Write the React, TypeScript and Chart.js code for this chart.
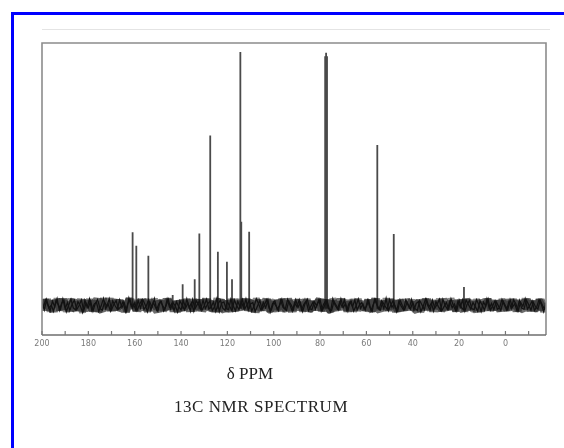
import { useEffect, useRef } from "react";
import { Chart, registerables } from "chart.js";

Chart.register(...registerables);

// x-axis (chemical shift, ppm) labels and minor tick marks
const ppmTickLabels = [200, 180, 160, 140, 120, 100, 80, 60, 40, 20, 0];
const ppmMinorTicks = [200, 190, 180, 170, 160, 150, 140, 130, 120, 110, 100, 90, 80, 70, 60, 50, 40, 30, 20, 10, 0, -10];
const ppmMin = -17.5;
const ppmMax = 200;

// Peaks: chemical shift (ppm) and relative intensity
const peakPpm = [160.9, 159.3, 154.1, 143.6, 139.3, 134.1, 132.1, 127.4, 124.1, 120.2, 118.0, 114.4, 114.0, 110.6, 77.8, 77.4, 77.0, 55.3, 48.2, 17.9];
const peakIntensity = [35.2, 30.6, 27.1, 13.7, 17.4, 19.1, 34.8, 68.3, 28.5, 25.1, 19.1, 96.9, 38.8, 35.4, 95.5, 96.7, 95.5, 65.1, 34.6, 16.4];
const peakBase = 9;

// Baseline noise trace A: one value per ppm from 200 ppm down to -17 ppm
const noiseAStartPpm = 200;
const noiseStepPpm = 1;
const noiseValuesA = [
  11.4, 8.6, 12.1, 9.3, 10.2, 8.1, 11.7, 10.4, 8.8, 12.3, 9.0, 11.1, 8.4, 10.6, 11.9, 8.7, 10.1, 12.0, 8.3, 10.9,
  9.4, 11.6, 8.2, 10.8, 12.2, 9.1, 8.5, 11.3, 9.8, 12.4, 8.6, 10.5, 11.8, 8.9, 9.6, 11.5, 8.0, 10.7, 12.1, 9.2,
  11.0, 8.4, 10.3, 11.9, 8.8, 9.9, 12.0, 8.5, 11.2, 9.4, 8.1, 11.6, 10.2, 8.7, 12.3, 9.5, 10.8, 8.3, 11.4, 9.7,
  8.6, 11.8, 9.3, 10.9, 8.2, 12.1, 9.0, 10.4, 11.7, 8.4, 10.0, 12.2, 8.9, 9.6, 11.3, 8.1, 10.7, 11.9, 9.2, 8.5,
  11.5, 9.8, 8.3, 12.0, 10.1, 8.7, 11.4, 9.3, 12.3, 8.5, 10.6, 11.1, 8.0, 9.9, 11.8, 8.8, 10.4, 12.1, 9.1, 8.6,
  11.2, 10.0, 8.4, 11.9, 9.5, 8.9, 12.2, 10.3, 8.2, 11.0, 9.7, 12.0, 8.6, 10.5, 11.6, 8.3, 9.8, 11.3, 8.8, 10.9,
  12.1, 8.5, 10.2, 11.7, 9.0, 8.4, 11.5, 10.1, 8.7, 12.3, 9.4, 10.8, 8.2, 11.4, 9.6, 12.0, 8.6, 10.3, 11.1, 8.9,
  9.7, 11.9, 8.3, 10.6, 12.2, 9.2, 8.5, 11.3, 10.0, 8.8, 12.1, 9.5, 10.7, 8.1, 11.6, 9.9, 8.6, 12.0, 10.4, 8.9,
  11.2, 9.0, 8.4, 11.8, 10.3, 8.7, 12.1, 9.6, 10.9, 8.2, 11.4, 9.8, 8.5, 12.2, 10.1, 8.8, 11.5, 9.3, 10.6, 8.3,
  11.9, 9.4, 8.6, 12.0, 10.5, 8.9, 11.1, 9.7, 8.2, 11.7, 10.2, 8.5, 12.3, 9.1, 10.8, 8.7, 11.4, 9.9, 8.4, 11.6,
  10.0, 8.6, 12.1, 9.5, 10.7, 8.3, 11.8, 9.2, 8.8, 12.0, 10.4, 8.5, 11.3, 9.6, 8.9, 11.9, 10.1, 8.7,
];

// Baseline noise trace B: one value per ppm from 199.5 ppm down to -17.5 ppm
const noiseBStartPpm = 199.5;
const noiseValuesB = [
  9.1, 12.0, 10.3, 8.2, 11.6, 9.7, 12.4, 8.5, 10.9, 11.8, 8.0, 10.2, 12.2, 9.3, 8.6, 11.4, 10.0, 7.8, 11.9, 9.5,
  12.3, 8.4, 10.6, 11.2, 8.1, 9.9, 12.5, 9.0, 10.7, 8.3, 11.7, 10.1, 8.8, 12.0, 9.4, 11.0, 8.2, 12.6, 9.8, 10.5,
  8.5, 11.9, 9.2, 12.1, 10.4, 8.0, 11.3, 9.6, 12.4, 8.7, 10.8, 11.5, 8.3, 9.9, 12.2, 8.9, 11.1, 10.0, 7.9, 11.7,
  10.2, 8.6, 12.3, 9.4, 11.0, 8.2, 11.8, 10.5, 8.8, 12.0, 9.1, 10.7, 11.6, 8.4, 9.7, 12.5, 8.1, 10.9, 11.3, 9.0,
  8.7, 12.2, 10.0, 8.3, 11.5, 9.6, 12.1, 8.9, 10.4, 11.9, 8.2, 9.8, 12.4, 10.6, 8.5, 11.2, 9.3, 12.0, 8.0, 10.8,
  11.7, 8.8, 10.1, 12.3, 9.2, 8.4, 11.6, 10.3, 8.6, 12.0, 9.5, 11.1, 8.1, 10.7, 12.2, 9.0, 8.7, 11.4, 10.0, 12.1,
  8.3, 10.5, 11.8, 9.3, 8.0, 12.4, 10.2, 8.9, 11.3, 9.7, 12.0, 8.5, 10.9, 11.5, 8.2, 9.9, 12.3, 9.1, 10.6, 8.6,
  11.9, 9.4, 8.1, 12.2, 10.4, 8.8, 11.6, 9.0, 12.5, 8.4, 10.3, 11.7, 9.6, 8.2, 12.0, 10.1, 8.7, 11.2, 9.3, 12.1,
  8.5, 10.8, 11.4, 8.0, 9.8, 12.3, 10.0, 8.6, 11.9, 9.2, 10.5, 12.2, 8.3, 9.7, 11.1, 8.9, 12.4, 10.2, 8.4, 11.6,
  9.5, 12.0, 8.2, 10.6, 11.8, 9.0, 8.7, 12.1, 10.4, 8.1, 11.3, 9.9, 12.3, 8.5, 10.0, 11.7, 8.8, 9.4, 12.2, 10.3,
  8.6, 11.5, 9.1, 12.0, 10.7, 8.3, 11.2, 9.8, 12.4, 8.9, 10.1, 11.6, 8.4, 9.6, 12.1, 10.5, 8.0, 11.0,
];

const xAxisTitle = "δ PPM";
const chartTitle = "13C NMR SPECTRUM";

const framePlugin = {
  id: "nmrFrame",
  afterDatasetsDraw(chart: any) {
    const { ctx, chartArea } = chart;
    const xs = chart.scales.x;
    const { left, right, top, bottom } = chartArea;
    ctx.save();
    // faint line above the plot
    ctx.strokeStyle = "#e4e4e4";
    ctx.lineWidth = 1;
    ctx.beginPath();
    ctx.moveTo(left, top - 13.5);
    ctx.lineTo(right + 4, top - 13.5);
    ctx.stroke();
    // box
    ctx.strokeStyle = "#8c8c8c";
    ctx.lineWidth = 1.6;
    ctx.beginPath();
    ctx.moveTo(left, bottom);
    ctx.lineTo(left, top);
    ctx.lineTo(right, top);
    ctx.lineTo(right, bottom);
    ctx.stroke();
    // axis line
    ctx.strokeStyle = "#6e6e6e";
    ctx.lineWidth = 1.5;
    ctx.beginPath();
    ctx.moveTo(left, bottom);
    ctx.lineTo(right, bottom);
    ctx.stroke();
    // inward tick marks
    ctx.strokeStyle = "#777";
    ctx.lineWidth = 1.2;
    ppmMinorTicks.forEach((v) => {
      const px = xs.getPixelForValue(v);
      ctx.beginPath();
      ctx.moveTo(px, bottom);
      ctx.lineTo(px, bottom - 4);
      ctx.stroke();
    });
    ctx.restore();
  },
};

export default function App() {
  const canvasRef = useRef<HTMLCanvasElement | null>(null);

  useEffect(() => {
    const noiseA = noiseValuesA.map((v, i) => ({ x: noiseAStartPpm - i * noiseStepPpm, y: v }));
    const noiseB = noiseValuesB.map((v, i) => ({ x: noiseBStartPpm - i * noiseStepPpm, y: v }));
    const peakData: any[] = [];
    peakPpm.forEach((p, i) => {
      peakData.push({ x: p, y: peakBase });
      peakData.push({ x: p, y: peakIntensity[i] });
      peakData.push({ x: p, y: null });
    });

    const chart = new Chart(canvasRef.current as HTMLCanvasElement, {
      type: "line",
      data: {
        datasets: [
          {
            data: noiseA,
            borderColor: "rgba(20,20,20,0.62)",
            borderWidth: 9,
            borderJoinStyle: "bevel",
            pointRadius: 0,
            tension: 0,
            fill: false,
          },
          {
            data: noiseB,
            borderColor: "rgba(20,20,20,0.5)",
            borderWidth: 7,
            borderJoinStyle: "bevel",
            pointRadius: 0,
            tension: 0,
            fill: false,
          },
          {
            data: noiseA,
            borderColor: "#111",
            borderWidth: 1.3,
            pointRadius: 0,
            tension: 0,
            fill: false,
          },
          {
            data: noiseB,
            borderColor: "#111",
            borderWidth: 1.3,
            pointRadius: 0,
            tension: 0,
            fill: false,
          },
          {
            data: peakData,
            borderColor: "#4a4a4a",
            borderWidth: 1.8,
            pointRadius: 0,
            spanGaps: false,
            tension: 0,
            fill: false,
          },
        ],
      },
      options: {
        animation: false,
        responsive: false,
        devicePixelRatio: 1,
        events: [],
        layout: { padding: { left: 42, top: 43, right: 18, bottom: 93 } },
        plugins: {
          legend: { display: false },
          tooltip: { enabled: false },
          title: { display: false },
        },
        scales: {
          x: {
            type: "linear",
            reverse: true,
            min: ppmMin,
            max: ppmMax,
            grid: { display: false, drawTicks: false },
            border: { display: false },
            afterBuildTicks: (scale: any) => {
              scale.ticks = ppmTickLabels.map((v) => ({ value: v }));
            },
            afterFit: (scale: any) => {
              scale.height = 20;
            },
            ticks: {
              padding: 4,
              autoSkip: false,
              maxRotation: 0,
              color: "#7a7a7a",
              font: { family: "DejaVu Sans", size: 8 },
              callback: (v: any) => String(v),
            },
          },
          y: {
            type: "linear",
            display: false,
            min: 0,
            max: 100,
          },
        },
      },
      plugins: [framePlugin],
    });
    return () => chart.destroy();
  }, []);

  return (
    <div style={{ position: "fixed", left: 0, top: 0, width: 564, height: 448, overflow: "hidden", background: "#fff" }}>
      <div
        style={{
          position: "absolute",
          left: 11,
          top: 12,
          width: 620,
          height: 520,
          border: "3px solid #0000ff",
          boxSizing: "border-box",
        }}
      />
      <canvas ref={canvasRef} width={564} height={448} style={{ position: "absolute", left: 0, top: 0, display: "block" }} />
      <div
        style={{
          position: "absolute",
          left: 150,
          width: 200,
          top: 364,
          textAlign: "center",
          fontFamily: "'Liberation Serif', serif",
          fontSize: 17,
          color: "#222",
          whiteSpace: "nowrap",
        }}
      >
        {xAxisTitle}
      </div>
      <div
        style={{
          position: "absolute",
          left: 111,
          width: 300,
          top: 397,
          textAlign: "center",
          fontFamily: "'Liberation Serif', serif",
          fontSize: 17,
          letterSpacing: 0.55,
          color: "#222",
          whiteSpace: "nowrap",
        }}
      >
        {chartTitle}
      </div>
    </div>
  );
}
